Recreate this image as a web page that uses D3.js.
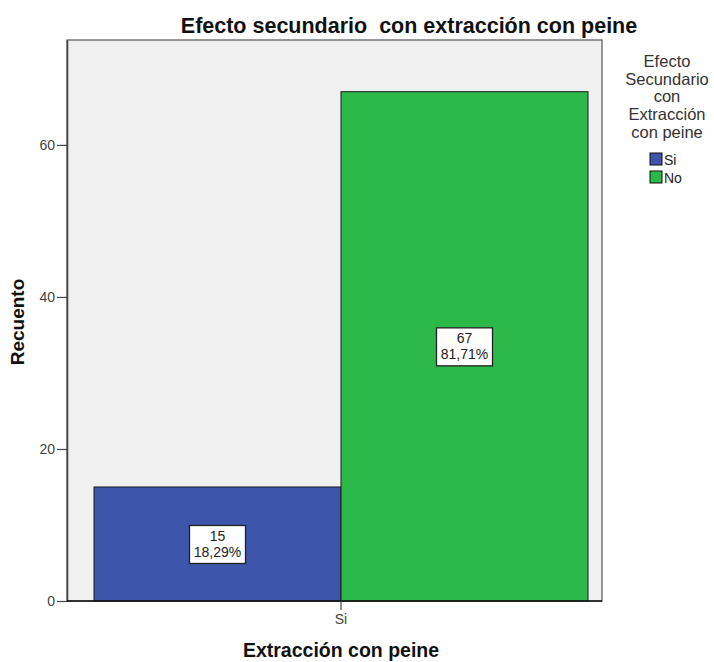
<!DOCTYPE html>
<html>
<head>
<meta charset="utf-8">
<script src="https://cdn.jsdelivr.net/npm/d3@7"></script>
<style>
  body { margin: 0; background: #fff; }
  svg { display: block; font-family: "Liberation Sans", Arial, sans-serif; }
</style>
</head>
<body>
<svg id="chart" width="714" height="662"></svg>
<script>
// Grouped counts: side effect by comb extraction
const categories = ["Si"];
const seriesNames = ["Si", "No"];
const seriesValues = [15, 67];
const seriesPercents = ["18,29%", "81,71%"];
const seriesColors = ["#3d55aa", "#2db84a"];
const yTicks = [0, 20, 40, 60];
const legendTitle = ["Efecto", "Secundario", "con", "Extracción", "con peine"];

const svg = d3.select("#chart");
const plot = { left: 67, right: 602, top: 40, bottom: 601 };

const y = d3.scaleLinear().domain([0, 73.8]).range([plot.bottom, plot.top]);
const x = d3.scaleBand().domain(categories).range([94, 588]).padding(0);
const xs = d3.scaleBand().domain(seriesNames).range([x(categories[0]), x(categories[0]) + x.bandwidth()]);

// Plot background and frame
svg.append("rect")
  .attr("x", plot.left).attr("y", plot.top)
  .attr("width", plot.right - plot.left).attr("height", plot.bottom - plot.top)
  .attr("fill", "#f0f0f0").attr("stroke", "#555").attr("stroke-width", 1.2);

// Bars
seriesNames.forEach((s, i) => {
  const v = seriesValues[i];
  const x0 = xs(s), w = xs.bandwidth();
  svg.append("rect")
    .attr("x", x0).attr("y", y(v))
    .attr("width", w).attr("height", y(0) - y(v))
    .attr("fill", seriesColors[i]).attr("stroke", "#1a1a1a").attr("stroke-width", 1);

  const cx = x0 + w / 2, cy = (y(v) + y(0)) / 2;
  const g = svg.append("g").attr("transform", `translate(${cx},${cy})`);
  g.append("rect").attr("x", -28).attr("y", -18.5).attr("width", 56).attr("height", 38)
    .attr("fill", "#fff").attr("stroke", "#222").attr("stroke-width", 1.3);
  g.append("text").attr("text-anchor", "middle").attr("y", -3)
    .attr("font-size", 14).attr("fill", "#222").text(v);
  g.append("text").attr("text-anchor", "middle").attr("y", 13)
    .attr("font-size", 14).attr("fill", "#222").text(seriesPercents[i]);
});

// Y axis
const yAxis = svg.append("g").attr("transform", `translate(${plot.left},0)`)
  .call(d3.axisLeft(y).tickValues(yTicks).tickSize(10).tickSizeOuter(0).tickPadding(2));
yAxis.select(".domain").attr("stroke", "#444").attr("stroke-width", 1.6);
yAxis.selectAll(".tick line").attr("stroke", "#444").attr("stroke-width", 1.2);
yAxis.selectAll(".tick text").attr("font-size", 14).attr("fill", "#444")
  .attr("font-family", "Liberation Sans, Arial, sans-serif");

// X axis: baseline across the full plot, tick at the category centre
svg.append("line").attr("x1", plot.left).attr("x2", plot.right)
  .attr("y1", plot.bottom).attr("y2", plot.bottom)
  .attr("stroke", "#111").attr("stroke-width", 1.6);
const xAxis = svg.append("g").attr("transform", `translate(0,${plot.bottom})`)
  .call(d3.axisBottom(x).tickSize(9).tickSizeOuter(0).tickPadding(4));
xAxis.select(".domain").remove();
xAxis.selectAll(".tick line").attr("stroke", "#444").attr("stroke-width", 1.2);
xAxis.selectAll(".tick text").attr("font-size", 14).attr("fill", "#444")
  .attr("font-family", "Liberation Sans, Arial, sans-serif");

// Titles
svg.append("text").attr("x", 409).attr("y", 33).attr("text-anchor", "middle")
  .attr("font-size", 21.5).attr("font-weight", "bold").attr("fill", "#111")
  .style("white-space", "pre")
  .text("Efecto secundario  con extracción con peine");

svg.append("text").attr("x", 341).attr("y", 657).attr("text-anchor", "middle")
  .attr("font-size", 19.5).attr("font-weight", "bold").attr("fill", "#111")
  .text("Extracción con peine");

svg.append("text").attr("transform", "translate(24,322) rotate(-90)").attr("text-anchor", "middle")
  .attr("font-size", 19).attr("font-weight", "bold").attr("fill", "#111")
  .text("Recuento");

// Legend
const lg = svg.append("g");
legendTitle.forEach((t, i) => {
  lg.append("text").attr("x", 667).attr("y", 67 + i * 17.7).attr("text-anchor", "middle")
    .attr("font-size", 16.5).attr("fill", "#333").text(t);
});
seriesNames.forEach((s, i) => {
  lg.append("rect").attr("x", 650).attr("y", 153 + i * 18).attr("width", 12).attr("height", 12)
    .attr("fill", seriesColors[i]).attr("stroke", "#111").attr("stroke-width", 1);
  lg.append("text").attr("x", 664).attr("y", 164.5 + i * 18)
    .attr("font-size", 14).attr("fill", "#222").text(s);
});
</script>
</body>
</html>
